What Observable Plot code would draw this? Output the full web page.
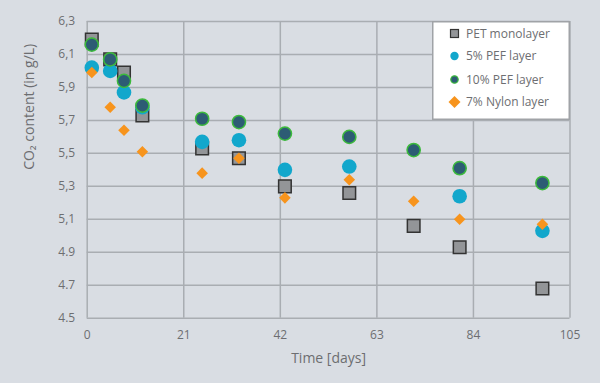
<!DOCTYPE html>
<html>
<head>
<meta charset="utf-8">
<script src="https://cdn.jsdelivr.net/npm/d3@7"></script>
<script src="https://cdn.jsdelivr.net/npm/@observablehq/plot@0.6"></script>
<style>
  body { margin: 0; background: #d9dde3; }
  #wrap { position: relative; width: 600px; height: 383px; background: #d9dde3; font-family: "Open Sans", sans-serif; }
  #legend { position: absolute; left: 432px; top: 21px; }
</style>
</head>
<body>
<div id="wrap"><svg id="legend" width="138" height="99"></svg></div>
<script>
const days = [1, 5, 8, 12, 25, 33, 43, 57, 71, 81, 99];
const petMonolayer = [6.19, 6.07, 5.99, 5.73, 5.53, 5.47, 5.30, 5.26, 5.06, 4.93, 4.68];
const pef5Days = [1, 5, 8, 12, 25, 33, 43, 57, 81, 99];
const pef5 = [6.02, 6.00, 5.87, 5.78, 5.57, 5.58, 5.40, 5.42, 5.24, 5.03];
const pef10 = [6.16, 6.07, 5.94, 5.79, 5.71, 5.69, 5.62, 5.60, 5.52, 5.41, 5.32];
const nylon7 = [5.99, 5.78, 5.64, 5.51, 5.38, 5.47, 5.23, 5.34, 5.21, 5.10, 5.07];

const xTicks = [0, 21, 42, 63, 84, 105];
const yTicks = [4.5, 4.7, 4.9, 5.1, 5.3, 5.5, 5.7, 5.9, 6.1, 6.3];
const yTickLabels = ["4.5", "4.7", "4.9", "5,1", "5,3", "5,5", "5,7", "5,9", "6,1", "6,3"];
const seriesNames = ["PET monolayer", "5% PEF layer", "10% PEF layer", "7% Nylon layer"];
const xLabel = "Time [days]";
const yLabel = "CO₂ content (in g/L)";

const pet = days.map((d, i) => ({x: d, y: petMonolayer[i]}));
const p5 = pef5Days.map((d, i) => ({x: d, y: pef5[i]}));
const p10 = days.map((d, i) => ({x: d, y: pef10[i]}));
const ny = days.map((d, i) => ({x: d, y: nylon7[i]}));

const gridColor = "#a9adb2";

const chart = Plot.plot({
  width: 600,
  height: 383,
  marginLeft: 86.7,
  marginRight: 30.5,
  marginTop: 21,
  marginBottom: 65.3,
  style: {background: "transparent", fontFamily: "Open Sans, sans-serif", fontSize: "12px", color: "#6d6e71"},
  x: {domain: [0, 105], ticks: xTicks, label: null},
  y: {domain: [4.5, 6.3], ticks: yTicks, label: null},
  marks: [
    Plot.gridX(xTicks, {stroke: gridColor, strokeOpacity: 1, strokeWidth: 1.5}),
    Plot.gridY(yTicks, {stroke: gridColor, strokeOpacity: 1, strokeWidth: 1.5}),
    Plot.axisX(xTicks, {tickSize: 0, tickPadding: 12, fontSize: 12, fill: "#6d6e71"}),
    Plot.axisY(yTicks, {tickSize: 0, tickPadding: 12, fontSize: 12, fill: "#6d6e71",
      tickFormat: (d) => yTickLabels[yTicks.indexOf(d)]}),
    Plot.dot(pet, {x: "x", y: "y", symbol: "square", r: 7.1, fill: "#939598", stroke: "#333333", strokeWidth: 1.5}),
    Plot.dot(p5, {x: "x", y: "y", symbol: "circle", r: 7.3, fill: "#12a7cc", stroke: "none"}),
    Plot.dot(p10, {x: "x", y: "y", symbol: "circle", r: 6.6, fill: "#2d5c74", stroke: "#3cba3c", strokeWidth: 1.5}),
    Plot.dot(ny, {x: "x", y: "y", symbol: "diamond2", r: 5.2, fill: "#f7941d", stroke: "none"}),
    Plot.text([xLabel], {frameAnchor: "bottom", dy: 45, fontSize: 14, fill: "#6d6e71", text: d => d}),
    Plot.text([yLabel], {frameAnchor: "left", dx: -58, rotate: -90, fontSize: 14, fill: "#6d6e71", text: d => d})
  ]
});
document.getElementById("wrap").insertBefore(chart, document.getElementById("legend"));

// Legend
const lg = d3.select("#legend");
lg.append("rect").attr("x", 0.75).attr("y", 0.75).attr("width", 136.5).attr("height", 97.5)
  .attr("fill", "#ffffff").attr("stroke", "#a0a3a7").attr("stroke-width", 1.5);
const rowY = [12.5, 35, 58.5, 81];
const sx = 22.5;
// symbols
lg.append("rect").attr("x", sx - 4).attr("y", rowY[0] - 4).attr("width", 8).attr("height", 8)
  .attr("fill", "#939598").attr("stroke", "#333").attr("stroke-width", 1.2);
lg.append("circle").attr("cx", sx).attr("cy", rowY[1]).attr("r", 4.2).attr("fill", "#12a7cc");
lg.append("circle").attr("cx", sx).attr("cy", rowY[2]).attr("r", 3.7).attr("fill", "#2d5c74")
  .attr("stroke", "#3cba3c").attr("stroke-width", 1.2);
lg.append("path").attr("d", `M${sx},${rowY[3]-6}L${sx+6},${rowY[3]}L${sx},${rowY[3]+6}L${sx-6},${rowY[3]}Z`)
  .attr("fill", "#f7941d");
seriesNames.forEach((n, i) => {
  lg.append("text").attr("x", 34).attr("y", rowY[i]).attr("dy", "0.35em")
    .attr("font-family", "Open Sans, sans-serif").attr("font-size", 12).attr("fill", "#6d6e71").text(n);
});
</script>
</body>
</html>
